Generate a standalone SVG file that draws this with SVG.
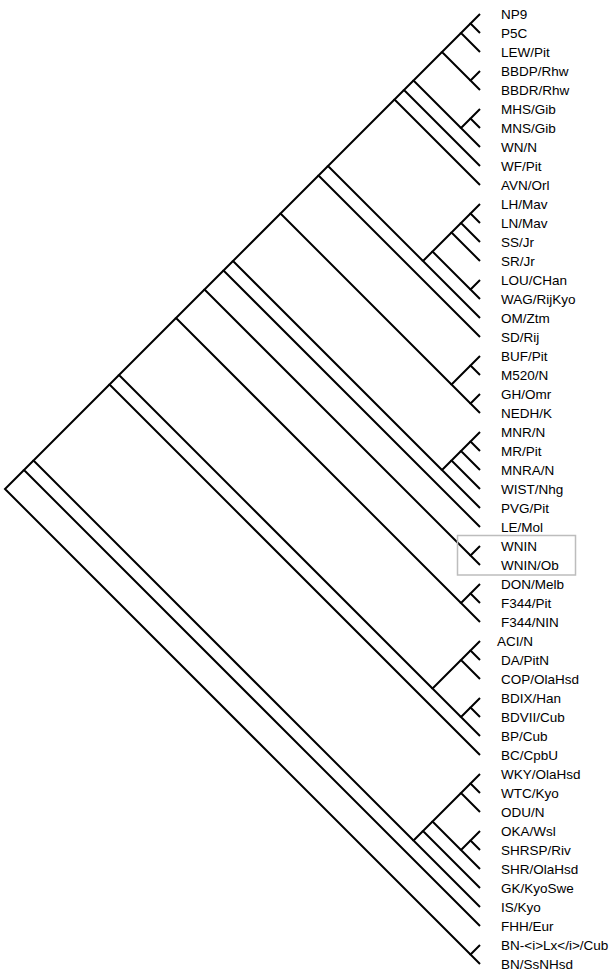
<svg xmlns="http://www.w3.org/2000/svg" width="611" height="973" viewBox="0 0 611 973">
<style>
.e{fill:none;stroke:#000;stroke-width:2;stroke-linejoin:miter}
.t{font-family:"Liberation Sans",Arial,sans-serif;font-size:13.5px;fill:#000}
.box{fill:none;stroke:#bdbdbd;stroke-width:1.5}
</style>
<rect width="611" height="973" fill="#fff"/>
<g id="connectors">
<polyline class="e" points="24,470 5,489 470.5,954.5"/>
<polyline class="e" points="33.5,460.5 24,470 480,926"/>
<polyline class="e" points="109.5,384.5 33.5,460.5 413.5,840.5"/>
<polyline class="e" points="119,375 109.5,384.5 480,755"/>
<polyline class="e" points="176,318 119,375 432.5,688.5"/>
<polyline class="e" points="204.5,289.5 176,318 461,603"/>
<polyline class="e" points="223.5,270.5 204.5,289.5 470.5,555.5"/>
<polyline class="e" points="233,261 223.5,270.5 480,527"/>
<polyline class="e" points="280.5,213.5 233,261 442,470"/>
<polyline class="e" points="318.5,175.5 280.5,213.5 451.5,384.5"/>
<polyline class="e" points="328,166 318.5,175.5 480,337"/>
<polyline class="e" points="394.5,99.5 328,166 423,261"/>
<polyline class="e" points="404,90 394.5,99.5 480,185"/>
<polyline class="e" points="413.5,80.5 404,90 480,166"/>
<polyline class="e" points="442,52 413.5,80.5 461,128"/>
<polyline class="e" points="461,33 442,52 470.5,80.5"/>
<polyline class="e" points="470.5,23.5 461,33 480,52"/>
<polyline class="e" points="480,14 470.5,23.5 480,33"/>
<polyline class="e" points="480,71 470.5,80.5 480,90"/>
<polyline class="e" points="470.5,118.5 461,128 480,147"/>
<polyline class="e" points="480,109 470.5,118.5 480,128"/>
<polyline class="e" points="432.5,251.5 423,261 480,318"/>
<polyline class="e" points="451.5,232.5 432.5,251.5 470.5,289.5"/>
<polyline class="e" points="461,223 451.5,232.5 480,261"/>
<polyline class="e" points="470.5,213.5 461,223 480,242"/>
<polyline class="e" points="480,204 470.5,213.5 480,223"/>
<polyline class="e" points="480,280 470.5,289.5 480,299"/>
<polyline class="e" points="470.5,365.5 451.5,384.5 470.5,403.5"/>
<polyline class="e" points="480,356 470.5,365.5 480,375"/>
<polyline class="e" points="480,394 470.5,403.5 480,413"/>
<polyline class="e" points="451.5,460.5 442,470 480,508"/>
<polyline class="e" points="461,451 451.5,460.5 480,489"/>
<polyline class="e" points="470.5,441.5 461,451 480,470"/>
<polyline class="e" points="480,432 470.5,441.5 480,451"/>
<polyline class="e" points="480,546 470.5,555.5 480,565"/>
<polyline class="e" points="470.5,593.5 461,603 480,622"/>
<polyline class="e" points="480,584 470.5,593.5 480,603"/>
<polyline class="e" points="461,660 432.5,688.5 461,717"/>
<polyline class="e" points="470.5,650.5 461,660 480,679"/>
<polyline class="e" points="480,641 470.5,650.5 480,660"/>
<polyline class="e" points="470.5,707.5 461,717 480,736"/>
<polyline class="e" points="480,698 470.5,707.5 480,717"/>
<polyline class="e" points="423,831 413.5,840.5 480,907"/>
<polyline class="e" points="432.5,821.5 423,831 480,888"/>
<polyline class="e" points="461,793 432.5,821.5 461,850"/>
<polyline class="e" points="470.5,783.5 461,793 480,812"/>
<polyline class="e" points="480,774 470.5,783.5 480,793"/>
<polyline class="e" points="470.5,840.5 461,850 480,869"/>
<polyline class="e" points="480,831 470.5,840.5 480,850"/>
<polyline class="e" points="480,945 470.5,954.5 480,964"/>
</g>
<g id="highlight"><rect class="box" x="457.5" y="535.5" width="118" height="39.5"/></g>
<g id="leaf-NP9"><text class="t" x="501" y="18.7">NP9</text></g>
<g id="leaf-P5C"><text class="t" x="501" y="37.7">P5C</text></g>
<g id="leaf-LEW-Pit"><text class="t" x="501" y="56.7">LEW/Pit</text></g>
<g id="leaf-BBDP-Rhw"><text class="t" x="501" y="75.7">BBDP/Rhw</text></g>
<g id="leaf-BBDR-Rhw"><text class="t" x="501" y="94.7">BBDR/Rhw</text></g>
<g id="leaf-MHS-Gib"><text class="t" x="501" y="113.7">MHS/Gib</text></g>
<g id="leaf-MNS-Gib"><text class="t" x="501" y="132.7">MNS/Gib</text></g>
<g id="leaf-WN-N"><text class="t" x="501" y="151.7">WN/N</text></g>
<g id="leaf-WF-Pit"><text class="t" x="501" y="170.7">WF/Pit</text></g>
<g id="leaf-AVN-Orl"><text class="t" x="501" y="189.7">AVN/Orl</text></g>
<g id="leaf-LH-Mav"><text class="t" x="501" y="208.7">LH/Mav</text></g>
<g id="leaf-LN-Mav"><text class="t" x="501" y="227.7">LN/Mav</text></g>
<g id="leaf-SS-Jr"><text class="t" x="501" y="246.7">SS/Jr</text></g>
<g id="leaf-SR-Jr"><text class="t" x="501" y="265.7">SR/Jr</text></g>
<g id="leaf-LOU-CHan"><text class="t" x="501" y="284.7">LOU/CHan</text></g>
<g id="leaf-WAG-RijKyo"><text class="t" x="501" y="303.7">WAG/RijKyo</text></g>
<g id="leaf-OM-Ztm"><text class="t" x="501" y="322.7">OM/Ztm</text></g>
<g id="leaf-SD-Rij"><text class="t" x="501" y="341.7">SD/Rij</text></g>
<g id="leaf-BUF-Pit"><text class="t" x="501" y="360.7">BUF/Pit</text></g>
<g id="leaf-M520-N"><text class="t" x="501" y="379.7">M520/N</text></g>
<g id="leaf-GH-Omr"><text class="t" x="501" y="398.7">GH/Omr</text></g>
<g id="leaf-NEDH-K"><text class="t" x="501" y="417.7">NEDH/K</text></g>
<g id="leaf-MNR-N"><text class="t" x="501" y="436.7">MNR/N</text></g>
<g id="leaf-MR-Pit"><text class="t" x="501" y="455.7">MR/Pit</text></g>
<g id="leaf-MNRA-N"><text class="t" x="501" y="474.7">MNRA/N</text></g>
<g id="leaf-WIST-Nhg"><text class="t" x="501" y="493.7">WIST/Nhg</text></g>
<g id="leaf-PVG-Pit"><text class="t" x="501" y="512.7">PVG/Pit</text></g>
<g id="leaf-LE-Mol"><text class="t" x="501" y="531.7">LE/Mol</text></g>
<g id="leaf-WNIN"><text class="t" x="501" y="550.7">WNIN</text></g>
<g id="leaf-WNIN-Ob"><text class="t" x="501" y="569.7">WNIN/Ob</text></g>
<g id="leaf-DON-Melb"><text class="t" x="501" y="588.7">DON/Melb</text></g>
<g id="leaf-F344-Pit"><text class="t" x="501" y="607.7">F344/Pit</text></g>
<g id="leaf-F344-NIN"><text class="t" x="501" y="626.7">F344/NIN</text></g>
<g id="leaf-ACI-N"><text class="t" x="497" y="645.7">ACI/N</text></g>
<g id="leaf-DA-PitN"><text class="t" x="501" y="664.7">DA/PitN</text></g>
<g id="leaf-COP-OlaHsd"><text class="t" x="501" y="683.7">COP/OlaHsd</text></g>
<g id="leaf-BDIX-Han"><text class="t" x="501" y="702.7">BDIX/Han</text></g>
<g id="leaf-BDVII-Cub"><text class="t" x="501" y="721.7">BDVII/Cub</text></g>
<g id="leaf-BP-Cub"><text class="t" x="501" y="740.7">BP/Cub</text></g>
<g id="leaf-BC-CpbU"><text class="t" x="501" y="759.7">BC/CpbU</text></g>
<g id="leaf-WKY-OlaHsd"><text class="t" x="501" y="778.7">WKY/OlaHsd</text></g>
<g id="leaf-WTC-Kyo"><text class="t" x="501" y="797.7">WTC/Kyo</text></g>
<g id="leaf-ODU-N"><text class="t" x="501" y="816.7">ODU/N</text></g>
<g id="leaf-OKA-Wsl"><text class="t" x="501" y="835.7">OKA/Wsl</text></g>
<g id="leaf-SHRSP-Riv"><text class="t" x="501" y="854.7">SHRSP/Riv</text></g>
<g id="leaf-SHR-OlaHsd"><text class="t" x="501" y="873.7">SHR/OlaHsd</text></g>
<g id="leaf-GK-KyoSwe"><text class="t" x="501" y="892.7">GK/KyoSwe</text></g>
<g id="leaf-IS-Kyo"><text class="t" x="501" y="911.7">IS/Kyo</text></g>
<g id="leaf-FHH-Eur"><text class="t" x="501" y="930.7">FHH/Eur</text></g>
<g id="leaf-BN-Lx-Cub"><text class="t" x="501" y="949.7">BN-&lt;i&gt;Lx&lt;/i&gt;/Cub</text></g>
<g id="leaf-BN-SsNHsd"><text class="t" x="501" y="968.7">BN/SsNHsd</text></g>
</svg>
